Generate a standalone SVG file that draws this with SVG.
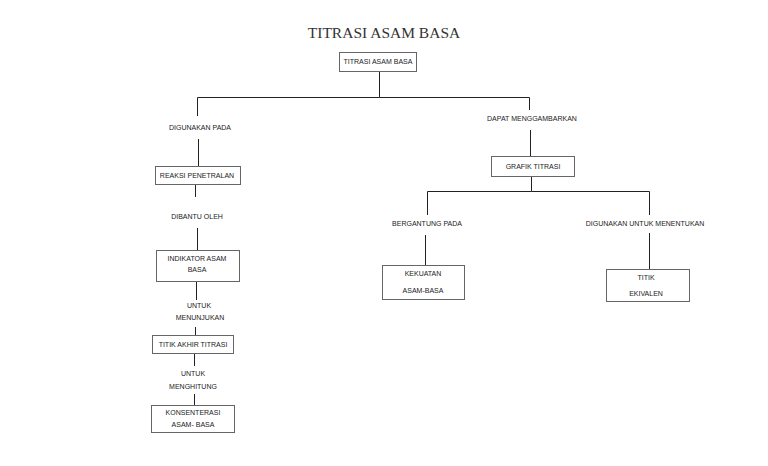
<svg xmlns="http://www.w3.org/2000/svg" width="768" height="466" viewBox="0 0 768 466">
<style>
.box{fill:#fff;stroke:#666;stroke-width:1}
.t{font-family:"Liberation Sans",Arial,sans-serif;font-size:7px;fill:#222;text-anchor:middle}
.title{font-family:"Liberation Serif","Times New Roman",serif;font-size:15.5px;fill:#333;text-anchor:middle}
.c{stroke:#222;stroke-width:1;fill:none}
</style>
<rect width="768" height="466" fill="#fff"/>
<text class="title" x="384" y="38">TITRASI ASAM BASA</text>
<g id="connectors">
<path class="c" d="M379.5 71V97.5H197.5V116"/>
<path class="c" d="M379.5 97.5H529.5V110"/>
<path class="c" d="M198.5 139V167"/>
<path class="c" d="M195.5 185V197"/>
<path class="c" d="M197.5 228V250"/>
<path class="c" d="M196.5 281V300"/>
<path class="c" d="M195.5 327V335"/>
<path class="c" d="M194.5 353V366"/>
<path class="c" d="M194.5 394V405"/>
<path class="c" d="M530.5 130V156"/>
<path class="c" d="M531.5 176V191.5H427.5V215"/>
<path class="c" d="M531.5 191.5H649.5V215"/>
<path class="c" d="M425.5 235V265"/>
<path class="c" d="M649.5 233V269"/>
</g>
<g id="n-top"><rect class="box" x="339.5" y="52.5" width="77" height="19"/><text class="t" x="378" y="64">TITRASI ASAM BASA</text></g>
<g id="l-digunakan"><text class="t" x="200" y="130">DIGUNAKAN PADA</text></g>
<g id="n-reaksi"><rect class="box" x="155.5" y="166.5" width="85" height="18"/><text class="t" x="197" y="178">REAKSI PENETRALAN</text></g>
<g id="l-dibantu"><text class="t" x="197" y="219">DIBANTU OLEH</text></g>
<g id="n-indikator"><rect class="box" x="156.5" y="250.5" width="83" height="31"/><text class="t" x="197" y="261">INDIKATOR ASAM</text><text class="t" x="197" y="272">BASA</text></g>
<g id="l-untuk1"><text class="t" x="199" y="308">UNTUK</text><text class="t" x="200" y="320">MENUNJUKAN</text></g>
<g id="n-titik-akhir"><rect class="box" x="152.5" y="335.5" width="81" height="18"/><text class="t" x="193" y="347">TITIK AKHIR TITRASI</text></g>
<g id="l-untuk2"><text class="t" x="193" y="376">UNTUK</text><text class="t" x="193" y="389">MENGHITUNG</text></g>
<g id="n-konsenterasi"><rect class="box" x="151.5" y="405.5" width="83" height="27"/><text class="t" x="193" y="415">KONSENTERASI</text><text class="t" x="193" y="427">ASAM- BASA</text></g>
<g id="l-dapat"><text class="t" x="532" y="121">DAPAT MENGGAMBARKAN</text></g>
<g id="n-grafik"><rect class="box" x="491.5" y="156.5" width="83" height="20"/><text class="t" x="533" y="169">GRAFIK TITRASI</text></g>
<g id="l-bergantung"><text class="t" x="427" y="226">BERGANTUNG PADA</text></g>
<g id="l-digunakan-untuk"><text class="t" x="645" y="226">DIGUNAKAN UNTUK MENENTUKAN</text></g>
<g id="n-kekuatan"><rect class="box" x="382.5" y="265.5" width="82" height="34"/><text class="t" x="423" y="276">KEKUATAN</text><text class="t" x="423" y="293">ASAM-BASA</text></g>
<g id="n-titik-ekivalen"><rect class="box" x="606.5" y="269.5" width="83" height="32"/><text class="t" x="646" y="280">TITIK</text><text class="t" x="646" y="296">EKIVALEN</text></g>
</svg>
